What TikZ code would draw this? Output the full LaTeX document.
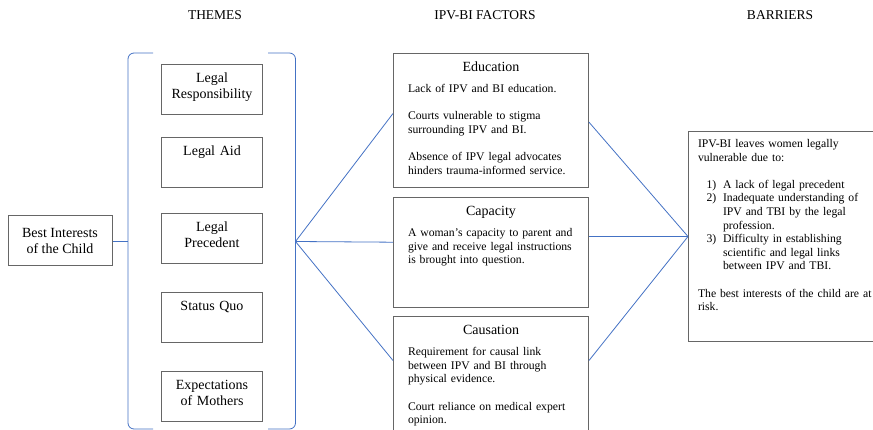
\documentclass[tikz,border=0pt]{standalone}
\usepackage{fontspec}
\setmainfont{Liberation Serif}
\usepackage{xcolor}
\usetikzlibrary{positioning, calc}
\definecolor{linkblue}{HTML}{4472C4}
\definecolor{boxgray}{HTML}{666666}
\newcommand{\factortitle}[1]{\makebox[\linewidth]{\fontsize{14}{16}\selectfont #1}\\[7.5pt]}

\begin{document}
\begin{tikzpicture}[
  x=1pt, y=-1pt,
  header/.style={
    font=\fontsize{13.5}{16}\selectfont
  },
  start/.style={
    rectangle,
    draw=boxgray,
    line width=1pt,
    minimum width=104pt,
    minimum height=50pt,
    align=center,
    font=\fontsize{14}{16}\selectfont
  },
  theme/.style={
    rectangle,
    draw=boxgray,
    line width=1pt,
    anchor=north west,
    text width=97pt,
    inner xsep=2pt,
    inner ysep=0pt,
    text height=18pt,
    text depth=32pt,
    align=center,
    font=\fontsize{14}{16}\selectfont
  },
  factor/.style={
    rectangle,
    draw=boxgray,
    line width=1pt,
    anchor=north west,
    text width=166pt,
    inner xsep=14.5pt,
    inner ysep=0pt,
    text height=18pt,
    align=left,
    font=\fontsize{11.7}{13.6}\selectfont
  },
  link/.style={
    draw=linkblue,
    line width=0.8pt
  },
  brace/.style={
    draw=linkblue,
    line width=0.8pt,
    rounded corners=6pt
  }
]
\useasboundingbox (0,0) rectangle (873,430);

% Column headers
\node[header] (themehead)  at (215,15) {THEMES};
\node[header] (factorhead) at (485,15) {IPV-BI FACTORS};
\node[header] (barhead)    at (780,15) {BARRIERS};

% Start box
\node[start] (best) at (60,241) {Best Interests\\of the Child};

% Themes (inside the bracket)
\node[theme] (resp)  at (161,64)  {Legal\\Responsibility};
\node[theme] (aid)   at (161,137) {Legal Aid};
\node[theme] (prec)  at (161,213) {Legal\\Precedent};
\node[theme] (quo)   at (161,292) {Status Quo};
\node[theme] (moth)  at (161,371) {Expectations\\of Mothers};

% Bracket round the themes
\draw[brace] (153,53) -- (128,53) -- (128,429) -- (153,429);
\draw[brace] (268,53) -- (295.5,53) -- (295.5,429) -- (268,429);
\coordinate (lbr) at (128,241);
\coordinate (rbr) at (295.5,241.5);

% Factors
\node[factor, text depth=116pt] (edu) at (393,53) {%
  \factortitle{Education}
  Lack of IPV and BI education.\\[13.6pt]
  Courts vulnerable to stigma\\
  surrounding IPV and BI.\\[13.6pt]
  Absence of IPV legal advocates\\
  hinders trauma-informed service.};

\node[factor, text depth=92pt] (cap) at (393,197) {%
  \factortitle{Capacity}
  A woman’s capacity to parent and\\
  give and receive legal instructions\\
  is brought into question.};

\node[factor, text depth=112pt] (cau) at (393,316) {%
  \factortitle{Causation}
  Requirement for causal link\\
  between IPV and BI through\\
  physical evidence.\\[13.6pt]
  Court reliance on medical expert\\
  opinion.};

% Barriers (box runs past the right edge)
\node[factor, text width=185pt, inner xsep=9.5pt, text height=16pt, text depth=194pt] (bar) at (688,131) {%
  IPV-BI leaves women legally\\
  vulnerable due to:\\[13.6pt]
  \hspace*{8.5pt}\makebox[16.5pt][l]{1)}A lack of legal precedent\\
  \hspace*{8.5pt}\makebox[16.5pt][l]{2)}Inadequate understanding of\\
  \hspace*{25pt}IPV and TBI by the legal\\
  \hspace*{25pt}profession.\\
  \hspace*{8.5pt}\makebox[16.5pt][l]{3)}Difficulty in establishing\\
  \hspace*{25pt}scientific and legal links\\
  \hspace*{25pt}between IPV and TBI.\\[13.6pt]
  The best interests of the child are at\\
  risk.};

% Links
\draw[link] (best.east) -- (lbr);

\draw[link] (rbr) -- ([yshift=7pt]edu.west);
\draw[link] (rbr) -- ([yshift=10.3pt]cap.west);
\draw[link] (rbr) -- ([yshift=21pt]cau.west);

\draw[link] ([yshift=-1.7pt]edu.east) -- (bar.west);
\draw[link] ([yshift=16pt]cap.east) -- (bar.west);
\draw[link] ([yshift=21pt]cau.east) -- (bar.west);

\end{tikzpicture}
\end{document}
